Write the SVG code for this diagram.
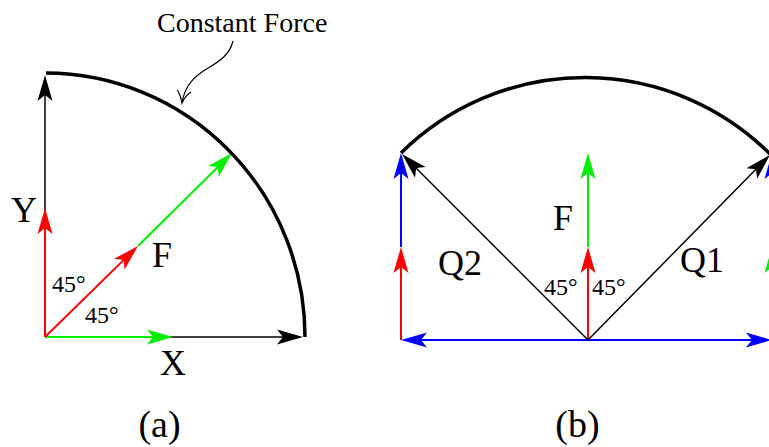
<svg xmlns="http://www.w3.org/2000/svg" width="769" height="447" viewBox="0 0 769 447">
<style>
text{font-family:"Liberation Serif","Times New Roman",serif;fill:#000}
.big{font-size:36px;text-anchor:middle}
.ang{font-size:24px}
.cap{font-size:38px;text-anchor:middle}
.k{stroke:#000;stroke-width:1.5;fill:none}
.r{stroke:#ff0000;stroke-width:2;fill:none}
.g{stroke:#00ee00;stroke-width:2;fill:none}
.b{stroke:#0000ff;stroke-width:2;fill:none}
.arc{stroke:#000;stroke-width:3.5;fill:none}
</style>
<defs>
<marker id="ak" markerUnits="userSpaceOnUse" orient="auto" refX="-18" refY="0" overflow="visible"><path d="M0,0 L-26,-7.5 L-20,0 L-26,7.5 Z" fill="#000"/></marker>
<marker id="ar" markerUnits="userSpaceOnUse" orient="auto" refX="-18" refY="0" overflow="visible"><path d="M0,0 L-26,-7.5 L-20,0 L-26,7.5 Z" fill="#ff0000"/></marker>
<marker id="ag" markerUnits="userSpaceOnUse" orient="auto" refX="-18" refY="0" overflow="visible"><path d="M0,0 L-26,-7.5 L-20,0 L-26,7.5 Z" fill="#00ee00"/></marker>
<marker id="ab" markerUnits="userSpaceOnUse" orient="auto" refX="-18" refY="0" overflow="visible"><path d="M0,0 L-26,-7.5 L-20,0 L-26,7.5 Z" fill="#0000ff"/></marker>
</defs>
<g id="connectors">
<!-- panel a -->
<path class="k" d="M45,337 L45,93" marker-end="url(#ak)"/>
<path class="r" d="M45,337 L45,226" marker-end="url(#ar)"/>
<path class="k" d="M45,337 L285,337" marker-end="url(#ak)"/>
<path class="g" d="M45,337 L155,337" marker-end="url(#ag)"/>
<path class="r" d="M45,337 L125.1,258.6" marker-end="url(#ar)"/>
<path class="g" d="M138,246 L219.2,165.7" marker-end="url(#ag)"/>
<path class="k" style="stroke-width:1.2" d="M233,41 C229,58 214,64 202,72 C190,80 184,90 182,103"/>
<path class="k" style="stroke-width:1.2" d="M177.5,90 Q181,96 182,103 Q185,96 191,92"/>
<!-- panel b -->
<path class="b" d="M588,340 L419,340" marker-end="url(#ab)"/>
<path class="b" d="M588,340 L754,340" marker-end="url(#ab)"/>
<path class="r" d="M588,340 L588,265" marker-end="url(#ar)"/>
<path class="g" d="M588,247 L588,171" marker-end="url(#ag)"/>
<path class="r" d="M401,340 L401,265" marker-end="url(#ar)"/>
<path class="b" d="M401,247 L401,171" marker-end="url(#ab)"/>
<path class="g" d="M772,340 L772,265" marker-end="url(#ag)"/>
<path class="b" d="M772,247 L772,171" marker-end="url(#ab)"/>
<path class="k" d="M588,340 L414.7,166.7" marker-end="url(#ak)"/>
<path class="k" d="M588,340 L757.4,167.8" marker-end="url(#ak)"/>
</g>
<g id="arc-a"><path class="arc" d="M46,73 A260,264 0 0 1 305,337"/></g>
<g id="arc-b"><path class="arc" d="M401,153 A262,262 0 0 1 771,155"/></g>
<g id="labels-a">
<text x="157" y="32" style="font-size:28px">Constant Force</text>
<text class="big" x="24" y="222">Y</text>
<text class="big" x="162" y="267">F</text>
<text class="big" x="173" y="375">X</text>
<text class="ang" x="52" y="292">45°</text>
<text class="ang" x="85" y="323">45°</text>
<text class="cap" x="159.5" y="437">(a)</text>
</g>
<g id="labels-b">
<text class="big" x="563" y="230">F</text>
<text class="big" x="460" y="275">Q2</text>
<text class="big" x="702" y="272">Q1</text>
<text class="ang" x="544" y="295">45°</text>
<text class="ang" x="592" y="295">45°</text>
<text class="cap" x="577.5" y="437">(b)</text>
</g>
</svg>
